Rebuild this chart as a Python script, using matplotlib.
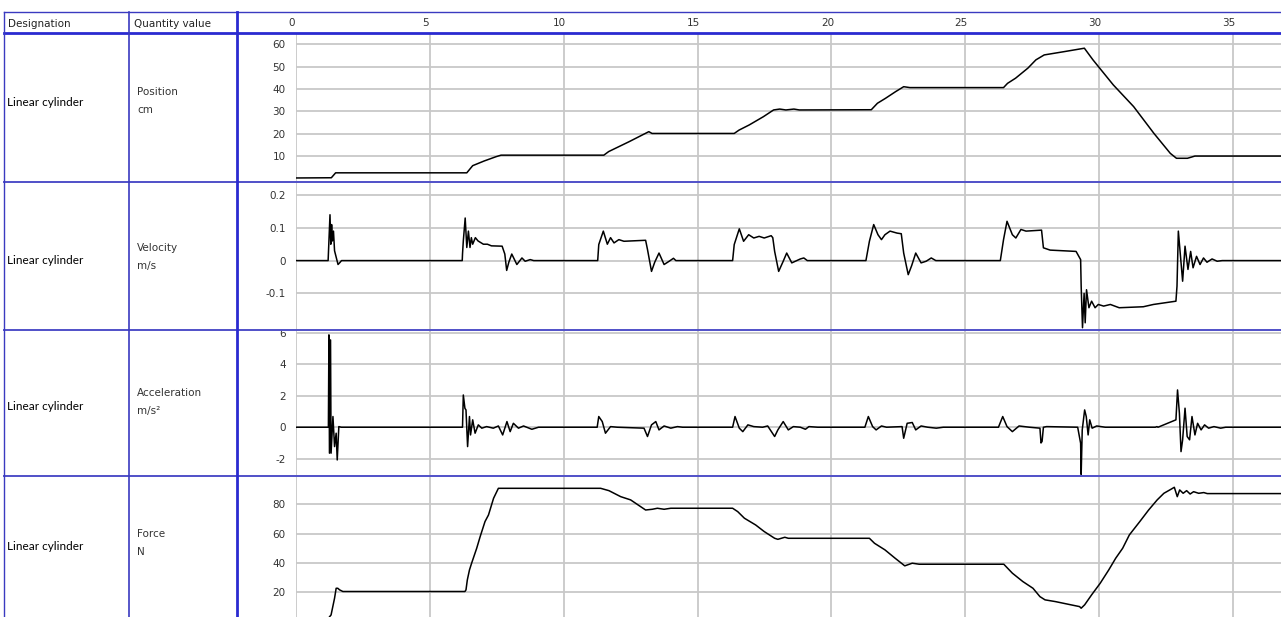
import matplotlib
matplotlib.use("Agg")
import matplotlib.pyplot as plt
from matplotlib.lines import Line2D
from matplotlib.transforms import offset_copy, Bbox, TransformedBbox

# Data (time in s)
pos_t = [0, 1.32, 1.48, 6.38, 6.6, 7.03, 7.47, 7.66, 11.5, 11.68, 12.44, 13.18, 13.3,
         16.37, 16.55, 16.93, 17.46, 17.84, 18.07, 18.3, 18.6, 18.8, 21.49, 21.72, 22.02,
         22.4, 22.7, 22.93, 26.43, 26.58, 26.88, 27.34, 27.64, 27.95, 28.71, 29.45, 29.77,
         30.53, 31.29, 32.05, 32.66, 32.89, 33.3, 33.58, 36.8]
pos_v = [0.2, 0.3, 2.5, 2.5, 5.7, 7.8, 9.7, 10.4, 10.4, 12, 16.4, 20.9, 20.1,
         20.1, 21.6, 23.9, 27.6, 30.6, 31.0, 30.6, 31.0, 30.6, 30.7, 33.6, 35.8,
         38.8, 41.0, 40.6, 40.6, 42.5, 44.8, 49.3, 53.0, 55.2, 56.7, 58.2, 53.0,
         41.8, 32.1, 20.1, 11.2, 9.0, 9.0, 10.0, 10.0]

vel_t = [0, 1.20, 1.22, 1.27, 1.30, 1.33, 1.36, 1.40, 1.44, 1.57, 1.65, 1.7,
         6.21, 6.22, 6.25, 6.32, 6.38, 6.44, 6.5, 6.55, 6.6, 6.7, 6.8, 6.9, 7.0, 7.15, 7.3,
         7.7, 7.8, 7.87, 7.95, 8.06, 8.25, 8.44, 8.56, 8.75, 8.88,
         11.27, 11.31, 11.48, 11.63, 11.75, 11.88, 12.06, 12.25, 13.06, 13.13, 13.28, 13.4,
         13.56, 13.75, 13.94, 14.1, 14.19,
         16.31, 16.37, 16.56, 16.72, 16.91, 17.1, 17.3, 17.49, 17.75, 17.81, 17.88, 18.03,
         18.2, 18.33, 18.52, 18.65, 18.84, 18.97, 19.1,
         21.29, 21.42, 21.58, 21.74, 21.87, 22.0, 22.19, 22.45, 22.61, 22.7, 22.87, 23.0,
         23.15, 23.35, 23.54, 23.73, 23.9,
         26.31, 26.43, 26.56, 26.76, 26.89, 27.08, 27.27, 27.85, 27.92, 28.17, 29.14, 29.31,
         29.33, 29.38, 29.44, 29.48, 29.53, 29.62, 29.72, 29.85, 29.97, 30.17, 30.42, 30.75,
         31.65, 32.03, 32.87, 32.91, 32.96, 33.06, 33.12, 33.21, 33.32, 33.42, 33.51, 33.64,
         33.77, 33.9, 34.03, 34.22, 34.41, 34.6, 36.8]
vel_v = [0, 0, 0.04, 0.14, 0.05, 0.11, 0.06, 0.09, 0.03, -0.012, -0.005, 0,
         0, 0.02, 0.06, 0.13, 0.04, 0.09, 0.04, 0.07, 0.05, 0.07, 0.06, 0.055, 0.05, 0.05, 0.045,
         0.044, 0.02, -0.03, -0.005, 0.02, -0.012, 0.008, -0.002, 0.003, 0,
         0, 0.049, 0.09, 0.05, 0.07, 0.054, 0.064, 0.059, 0.062, 0.034, -0.033, -0.005,
         0.023, -0.012, -0.002, 0.007, 0,
         0, 0.049, 0.097, 0.059, 0.079, 0.069, 0.074, 0.069, 0.076, 0.07, 0.028, -0.033,
         -0.002, 0.023, -0.007, -0.002, 0.005, 0.008, 0,
         0, 0.059, 0.11, 0.079, 0.064, 0.079, 0.09, 0.084, 0.082, 0.023, -0.043, -0.015,
         0.023, -0.007, -0.002, 0.008, 0,
         0, 0.064, 0.12, 0.079, 0.069, 0.095, 0.09, 0.093, 0.039, 0.032, 0.028, 0.003,
         -0.078, -0.205, -0.1, -0.19, -0.089, -0.144, -0.124, -0.144, -0.134, -0.139, -0.134, -0.144,
         -0.141, -0.134, -0.124, -0.078, 0.09, -0.007, -0.063, 0.044, -0.027, 0.028, -0.022, 0.013,
         -0.012, 0.008, -0.005, 0.005, -0.002, 0, 0]

acc_t = [0, 1.21, 1.23, 1.25, 1.29, 1.31, 1.38, 1.44, 1.5, 1.54, 1.6, 1.69,
         6.22, 6.25, 6.31, 6.35, 6.41, 6.48, 6.52, 6.6, 6.69, 6.81, 6.94, 7.12, 7.37, 7.56,
         7.72, 7.88, 8.0, 8.12, 8.31, 8.5, 8.81, 9.06,
         11.25, 11.31, 11.44, 11.56, 11.75, 12.0, 13.0, 13.13, 13.28, 13.44, 13.56, 13.75,
         14.0, 14.25, 14.44,
         16.31, 16.4, 16.56, 16.69, 16.88, 17.1, 17.43, 17.62, 17.88, 18.0, 18.2, 18.39,
         18.58, 18.84, 19.03, 19.16, 19.49,
         21.25, 21.38, 21.54, 21.67, 21.87, 22.06, 22.64, 22.7, 22.83, 23.02, 23.15, 23.35,
         23.6, 23.92, 24.18,
         26.24, 26.4, 26.56, 26.76, 27.01, 27.4, 27.79, 27.83, 27.87, 27.92, 28.04, 29.2,
         29.31, 29.33, 29.37, 29.46, 29.52, 29.59, 29.65, 29.74, 29.91, 30.23,
         32.1, 32.16, 32.2, 32.87, 32.93, 33.0, 33.06, 33.12, 33.21, 33.29, 33.38, 33.47,
         33.58, 33.68, 33.81, 33.94, 34.09, 34.29, 34.54, 34.73, 36.8]
acc_v = [0, 0, 5.87, -1.65, 5.55, -1.65, 0.68, -1.23, -0.38, -2.08, 0.04, 0,
         0, 2.05, 1.2, 1.1, -1.23, 0.68, -0.49, 0.47, -0.38, 0.15, -0.06, 0.04, -0.06, 0.08,
         -0.49, 0.36, -0.28, 0.25, -0.06, 0.08, -0.13, 0,
         0, 0.68, 0.36, -0.38, 0.04, 0, -0.06, -0.59, 0.15, 0.36, -0.17, 0.08,
         -0.06, 0.04, 0,
         0, 0.68, -0.06, -0.28, 0.15, 0.04, 0, 0.08, -0.59, -0.17, 0.36, -0.17,
         0.04, 0, -0.13, 0.04, 0,
         0, 0.68, 0.04, -0.17, 0.08, 0, 0.04, -0.7, 0.25, 0.3, -0.17, 0.08,
         0, -0.06, 0,
         0, 0.68, 0.04, -0.28, 0.08, 0, -0.06, -1.0, -0.9, 0, 0.04, 0,
         -1.02, -3.0, -0.17, 1.1, 0.68, -0.49, 0.47, -0.06, 0.08, 0,
         0, 0.04, 0, 0.47, 2.37, 0.89, -1.55, -0.8, 1.21, -0.59, -0.8, 0.68,
         -0.49, 0.25, -0.17, 0.15, -0.06, 0.04, -0.06, 0, 0]

frc_t = [0, 1.15, 1.25, 1.31, 1.44, 1.5, 1.56, 1.63, 1.75, 6.31, 6.35, 6.4, 6.48, 6.56,
         6.75, 6.88, 7.06, 7.19, 7.38, 7.56, 11.38, 11.69, 12.13, 12.5, 13.06, 13.31, 13.5,
         13.75, 14.0, 16.31, 16.5, 16.75, 17.17, 17.49, 17.88, 18.0, 18.26, 18.39, 21.42,
         21.61, 22.0, 22.38, 22.74, 23.02, 23.28, 26.44, 26.76, 27.15, 27.53, 27.79, 27.98,
         28.37, 28.95, 29.27, 29.33, 29.46, 29.72, 30.04, 30.36, 30.62, 30.88, 31.13, 31.52,
         31.85, 32.17, 32.42, 32.68, 32.81, 32.92, 33.01, 33.14, 33.27, 33.4, 33.53, 33.72,
         33.91, 34.04, 36.8]
frc_v = [0, 0, 3.2, 4.5, 15.9, 22.7, 22.7, 21.6, 20.5, 20.5, 21.6, 28.4, 35.2, 39.8,
         50, 58, 68.2, 72.7, 84.1, 90.9, 90.9, 89.3, 85.2, 83, 76.1, 76.6, 77.3,
         76.6, 77.3, 77.3, 75, 70.5, 65.9, 61.4, 56.8, 56.1, 57.5, 56.8, 56.8,
         53.4, 48.9, 43.2, 38, 39.8, 39.1, 39.1, 33, 27.3, 22.7, 17, 14.8,
         13.6, 11.4, 10.2, 9.1, 11.4, 18.2, 26.1, 35.2, 43.2, 50, 59.1, 68.2,
         76.1, 83, 87.5, 90.2, 91.6, 85.2, 89.8, 87.5, 89.3, 87, 88.6, 87.5,
         88, 87.3, 87.3]

x_ticks = [0, 5, 10, 15, 20, 25, 30, 35]
designations = ["Linear cylinder"] * 4
quantities = ["Position\ncm", "Velocity\nm/s", "Acceleration\nm/s\u00b2", "Force\nN"]

panels = [
    (pos_t, pos_v, (-1.6, 65.0), [10, 20, 30, 40, 50, 60], ["10", "20", "30", "40", "50", "60"]),
    (vel_t, vel_v, (-0.212, 0.24), [-0.1, 0, 0.1, 0.2], ["-0.1", "0", "0.1", "0.2"]),
    (acc_t, acc_v, (-3.1, 6.18), [-2, 0, 2, 4, 6], ["-2", "0", "2", "4", "6"]),
    (frc_t, frc_v, (3.1, 99.3), [20, 40, 60, 80], ["20", "40", "60", "80"]),
]

# Layout in pixels
W, H = 1281, 617
x_plot = 296
rows = [(33, 182), (182, 330), (330, 476), (476, 617)]
label_y = [103, 261, 406, 547]
quant_y = [101, 257, 402, 543]
col_x = [4, 129, 237]
blue = "#2a2ad0"
row_blue = "#5050c8"
grid_c = "#c8c8c8"

fig = plt.figure(figsize=(W / 100, H / 100), dpi=100)
fig.patch.set_facecolor("white")

def fx(x):
    return x / W

def fy(y):
    return 1 - y / H

axes = []
for (t, v, ylim, yt, ytl), (top, bot) in zip(panels, rows):
    ax = fig.add_axes([fx(x_plot), fy(bot), fx(W) - fx(x_plot), (bot - top) / H])
    ax.plot(t, v, color="black", lw=1.1)
    ax.set_xlim(0, (W - x_plot) / 26.77)
    ax.set_ylim(*ylim)
    ax.set_xticks(x_ticks)
    ax.set_yticks(yt)
    ax.set_yticklabels(ytl)
    ax.grid(True, color=grid_c, lw=1.3)
    ax.set_axisbelow(True)
    ax.tick_params(axis="x", bottom=False, labelbottom=False)
    ax.tick_params(axis="y", left=False, labelsize=7.5, labelcolor="#333333", pad=4)
    for s in ax.spines.values():
        s.set_visible(False)
    axes.append(ax)

# the top tick label of the acceleration row is cut by the row border
clip = TransformedBbox(Bbox([[0, fy(476)], [fx(x_plot), fy(331)]]), fig.transFigure)
for lbl in axes[2].get_yticklabels():
    lbl.set_clip_on(True)
    lbl.set_clip_box(clip)

# Header time labels
ax0 = axes[0]
trans = offset_copy(ax0.get_xaxis_transform(), fig=fig, x=-4, y=0, units="dots")
for xt in x_ticks:
    ax0.text(xt, 1 + 10 / (rows[0][1] - rows[0][0]), str(xt), transform=trans,
             ha="center", va="center", fontsize=7.5, color="#333333", clip_on=False)

# Table lines
def hline(y, x0, x1, color, lw):
    fig.add_artist(Line2D([fx(x0), fx(x1)], [fy(y), fy(y)], color=color, lw=lw))

def vline(x, y0, y1, color, lw):
    fig.add_artist(Line2D([fx(x), fx(x)], [fy(y0), fy(y1)], color=color, lw=lw))

hline(12, col_x[0], W, "#3a3ac0", 1.0)
hline(33, col_x[0], W, blue, 2.0)
for top, bot in rows[:-1]:
    hline(bot, col_x[0], W, row_blue, 1.4)
vline(col_x[0], 12, H, "#3a3ac0", 1.0)
vline(col_x[1], 12, H, "#3a3ac0", 1.2)
vline(col_x[2], 12, H, blue, 2.0)

# Header and row texts
fig.text(fx(8), fy(24), "Designation", fontsize=7.5, color="#222222", va="center")
fig.text(fx(col_x[1] + 5), fy(24), "Quantity value", fontsize=7.5, color="#222222", va="center")
for yl, yq, d, q in zip(label_y, quant_y, designations, quantities):
    fig.text(fx(7), fy(yl), d, fontsize=8.5, family="Lato", color="black", va="center")
    fig.text(fx(col_x[1] + 8), fy(yq), q, fontsize=7.5, color="#333333", va="center",
             linespacing=2.1)

fig.savefig("out.png", dpi=100)
